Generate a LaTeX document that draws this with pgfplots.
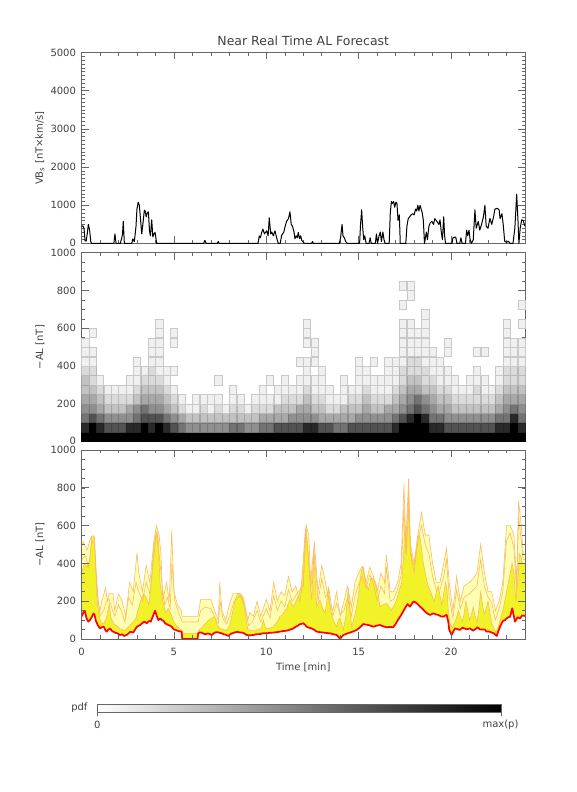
\documentclass[border=0pt]{standalone}
\usepackage{pgfplots}
\pgfplotsset{compat=1.18}
\usepackage{pgfplotstable}
\usepackage{fontspec}
\setmainfont{DejaVu Sans}
\definecolor{axgray}{gray}{0.4}
\definecolor{txt}{gray}{0.25}
\definecolor{paleY}{RGB}{255,255,180}
\definecolor{brightY}{RGB}{242,242,40}
\definecolor{orl}{RGB}{250,188,100}
\pgfdeclareplotmark{cell}{%
  \pgfpathrectangle{\pgfpoint{-3.6pt}{-4.6pt}}{\pgfpoint{7.2pt}{9.2pt}}%
  \pgfusepathqfillstroke}

\pgfplotstableread{
t v
0 450
0.08 460
0.14 380
0.19 80
0.25 60
0.31 250
0.37 500
0.44 350
0.5 50
0.55 0
1.75 0
1.81 250
1.87 0
2.1 0
2.18 150
2.22 250
2.26 580
2.32 0
2.72 0
2.78 120
2.86 50
2.95 450
3.0 900
3.07 1080
3.13 1000
3.2 600
3.26 250
3.32 500
3.4 870
3.45 850
3.5 700
3.56 800
3.62 830
3.68 330
3.73 200
3.8 620
3.86 170
3.92 250
3.98 290
4.07 0
6.6 0
6.68 80
6.75 0
7.35 0
7.4 50
7.45 0
9.55 0
9.62 200
9.68 150
9.75 290
9.82 375
9.9 250
10.02 330
10.1 200
10.16 670
10.24 250
10.3 300
10.38 200
10.47 330
10.56 150
10.65 0
10.75 0
10.83 210
10.95 300
11.02 450
11.1 580
11.2 650
11.28 830
11.35 500
11.42 450
11.5 300
11.55 125
11.62 200
11.68 150
11.73 290
11.8 125
11.86 200
11.92 80
11.99 40
12.05 0
12.45 0
12.5 50
12.55 0
13.95 0
14.02 150
14.1 500
14.15 200
14.22 150
14.3 50
14.38 0
15.05 0
15.1 500
15.16 880
15.22 400
15.27 100
15.33 200
15.4 0
15.56 0
15.62 150
15.68 0
15.9 0
15.96 250
16.02 0
16.1 200
16.17 300
16.23 50
16.31 300
16.37 100
16.43 0
16.65 0
16.71 800
16.77 1100
16.83 1050
16.89 1100
16.95 950
17.01 1080
17.07 1050
17.13 600
17.2 750
17.25 0
17.55 0
17.61 450
17.68 650
17.76 700
17.84 750
17.92 780
18.0 750
18.08 900
18.14 850
18.2 1000
18.26 850
18.32 1000
18.38 900
18.44 800
18.5 600
18.56 0
18.66 300
18.72 100
18.8 450
18.88 550
18.96 580
19.05 500
19.12 650
19.2 600
19.27 550
19.34 500
19.4 620
19.47 300
19.53 100
19.6 700
19.65 200
19.7 0
20.05 0
20.1 150
20.25 170
20.32 0
20.47 0
20.53 150
20.6 0
20.78 0
20.84 350
20.9 200
20.97 350
21.03 100
21.1 0
21.2 100
21.29 880
21.36 400
21.47 580
21.55 350
21.65 500
21.75 700
21.83 1000
21.9 450
22.0 400
22.1 660
22.2 500
22.3 700
22.37 900
22.5 920
22.6 880
22.65 650
22.75 780
22.82 500
22.9 60
23.0 30
23.1 60
23.2 0
23.35 0
23.45 400
23.55 1290
23.62 600
23.67 0
23.74 400
23.82 620
23.9 600
24 450
}\vbs

\pgfplotstableread{
t c25 c75 c125 c175 c225 c275 c325 c375 c425 c475 c525 c575 c625 c675 c725 c775 c825 c875
0.2 9 8 6 5 4 3 3 2 1 1 1 0 0 0 0 0 0 0
0.6 9 9 7 5 4 3 2 2 1 1 0 1 0 0 0 0 0 0
1.0 9 8 6 4 3 2 1 0 0 0 0 0 0 0 0 0 0 0
1.4 9 7 5 3 2 1 0 0 0 0 0 0 0 0 0 0 0 0
1.8 9 7 5 3 2 1 0 0 0 0 0 0 0 0 0 0 0 0
2.2 9 7 5 3 2 1 0 0 0 0 0 0 0 0 0 0 0 0
2.6 9 8 5 4 2 1 1 0 0 0 0 0 0 0 0 0 0 0
3.0 9 8 6 5 3 2 1 1 1 0 0 0 0 0 0 0 0 0
3.4 9 9 7 6 4 3 2 1 0 0 0 0 0 0 0 0 0 0
3.8 9 8 7 5 4 3 2 2 1 1 1 0 0 0 0 0 0 0
4.2 9 9 7 5 4 3 2 1 1 1 1 1 1 0 0 0 0 0
4.6 9 8 6 4 3 2 1 1 0 0 0 0 0 0 0 0 0 0
5.0 9 7 5 3 2 1 0 1 0 0 1 1 0 0 0 0 0 0
5.4 9 6 4 2 1 0 0 0 0 0 0 0 0 0 0 0 0 0
5.8 9 5 3 1 0 0 0 0 0 0 0 0 0 0 0 0 0 0
6.2 9 5 3 1 1 0 0 0 0 0 0 0 0 0 0 0 0 0
6.6 9 5 3 2 1 0 0 0 0 0 0 0 0 0 0 0 0 0
7.0 9 5 3 1 1 0 0 0 0 0 0 0 0 0 0 0 0 0
7.4 9 5 3 2 1 0 1 0 0 0 0 0 0 0 0 0 0 0
7.8 9 5 3 1 0 0 0 0 0 0 0 0 0 0 0 0 0 0
8.2 9 6 3 2 1 1 0 0 0 0 0 0 0 0 0 0 0 0
8.6 9 6 3 2 1 0 0 0 0 0 0 0 0 0 0 0 0 0
9.0 9 5 3 1 0 0 0 0 0 0 0 0 0 0 0 0 0 0
9.4 9 5 3 2 1 0 0 0 0 0 0 0 0 0 0 0 0 0
9.8 9 6 4 2 1 1 0 0 0 0 0 0 0 0 0 0 0 0
10.2 9 6 4 2 1 0 1 0 0 0 0 0 0 0 0 0 0 0
10.6 9 7 4 3 1 1 0 0 0 0 0 0 0 0 0 0 0 0
11.0 9 7 4 3 2 1 1 0 0 0 0 0 0 0 0 0 0 0
11.4 9 7 5 3 2 1 0 0 0 0 0 0 0 0 0 0 0 0
11.8 9 7 5 4 2 1 1 0 1 0 0 0 0 0 0 0 0 0
12.2 9 8 5 4 3 2 1 1 1 0 1 1 1 0 0 0 0 0
12.6 9 8 5 3 2 1 1 0 1 1 1 0 0 0 0 0 0 0
13.0 9 7 4 3 2 1 1 1 0 0 0 0 0 0 0 0 0 0
13.4 9 7 4 2 1 1 0 0 0 0 0 0 0 0 0 0 0 0
13.8 9 6 4 2 1 0 0 0 0 0 0 0 0 0 0 0 0 0
14.2 9 6 4 3 1 1 1 0 0 0 0 0 0 0 0 0 0 0
14.6 9 7 4 3 2 1 0 0 0 0 0 0 0 0 0 0 0 0
15.0 9 7 5 3 2 1 1 1 1 0 0 0 0 0 0 0 0 0
15.4 9 7 5 4 3 2 1 1 0 0 0 0 0 0 0 0 0 0
15.8 9 7 5 3 2 1 1 0 1 0 0 0 0 0 0 0 0 0
16.2 9 7 5 3 2 1 1 0 0 0 0 0 0 0 0 0 0 0
16.6 9 7 5 4 2 1 1 1 1 0 0 0 0 0 0 0 0 0
17.0 9 8 6 4 3 2 1 1 1 0 0 0 0 0 0 0 0 0
17.4 9 9 7 5 4 3 2 2 1 1 1 1 1 0 1 0 1 0
17.8 9 9 8 6 5 4 3 2 2 1 1 1 1 0 0 1 1 0
18.2 9 9 9 7 6 4 3 2 2 1 1 1 0 0 0 0 0 0
18.6 9 9 8 6 5 3 2 2 1 1 1 1 1 1 0 0 0 0
19.0 9 8 6 5 4 3 2 1 1 1 0 0 0 0 0 0 0 0
19.4 9 8 6 4 3 2 1 1 1 0 0 0 0 0 0 0 0 0
19.8 9 7 5 4 3 2 1 1 0 1 1 0 0 0 0 0 0 0
20.2 9 7 5 3 2 1 1 0 0 0 0 0 0 0 0 0 0 0
20.6 9 7 5 3 2 1 0 0 0 0 0 0 0 0 0 0 0 0
21.0 9 7 5 3 2 1 1 0 0 0 0 0 0 0 0 0 0 0
21.4 9 7 5 3 2 2 1 1 0 1 0 0 0 0 0 0 0 0
21.8 9 7 5 3 2 1 1 0 0 1 0 0 0 0 0 0 0 0
22.2 9 7 5 3 2 1 0 0 0 0 0 0 0 0 0 0 0 0
22.6 9 8 6 4 3 2 1 1 0 0 0 0 0 0 0 0 0 0
23.0 9 8 6 5 4 3 2 2 1 1 1 1 1 0 0 0 0 0
23.4 9 9 8 6 4 3 2 2 1 1 1 0 0 0 0 0 0 0
23.8 9 8 6 5 4 3 2 2 1 1 1 0 1 0 1 0 0 0
}\heat

\pgfplotstableread{
t v
0.0 118
0.1 140
0.18 150
0.27 110
0.37 92
0.46 100
0.55 115
0.65 135
0.7 130
0.78 95
0.9 70
1.0 56
1.1 62
1.2 66
1.3 45
1.36 39
1.45 50
1.55 56
1.65 42
1.72 39
1.85 32
1.95 30
2.08 21
2.2 25
2.3 16
2.44 21
2.55 30
2.65 39
2.8 34
2.9 50
3.0 65
3.1 70
3.17 74
3.3 85
3.4 92
3.53 83
3.65 95
3.75 92
3.89 127
3.98 150
4.08 120
4.16 100
4.26 109
4.35 100
4.45 95
4.52 83
4.62 78
4.7 74
4.8 70
4.88 65
5.0 50
5.1 48
5.24 42
5.35 40
5.42 39
5.45 0
6.28 0
6.32 30
6.4 35
6.5 34
6.6 28
6.7 25
6.86 30
6.95 25
7.05 21
7.15 30
7.22 34
7.3 36
7.4 35
7.5 32
7.58 30
7.7 25
7.8 23
7.94 16
8.05 25
8.15 30
8.3 35
8.45 38
8.58 34
8.67 35
8.8 30
8.94 21
9.1 20
9.3 21
9.45 25
9.66 26
9.8 30
10.02 30
10.2 33
10.38 34
10.55 36
10.74 39
10.9 42
11.1 44
11.3 50
11.46 56
11.6 65
11.73 72
11.82 78
12.0 83
12.1 75
12.18 65
12.3 60
12.46 56
12.6 48
12.73 39
12.9 36
13.09 34
13.25 32
13.45 30
13.6 26
13.81 21
13.92 10
13.99 0
14.05 8
14.17 21
14.35 28
14.53 34
14.7 40
14.89 48
15.05 60
15.25 79
15.4 76
15.52 74
15.65 70
15.79 65
15.95 70
16.15 74
16.3 68
16.51 62
16.7 64
16.87 62
17.0 80
17.12 100
17.24 118
17.35 136
17.5 162
17.64 185
17.78 171
17.9 190
17.96 198
18.05 195
18.14 189
18.24 180
18.32 171
18.45 160
18.59 145
18.72 135
18.86 127
19.04 136
19.18 130
19.31 127
19.45 120
19.58 118
19.7 125
19.76 127
19.85 90
19.9 48
20.03 21
20.12 40
20.21 56
20.35 52
20.48 48
20.62 60
20.75 55
20.84 51
21.02 56
21.2 44
21.35 55
21.42 62
21.56 51
21.7 50
21.82 51
21.92 39
22.05 40
22.2 34
22.32 30
22.41 21
22.47 16
22.55 40
22.65 65
22.8 95
22.92 100
23.0 109
23.1 115
23.19 118
23.31 162
23.4 120
23.46 92
23.6 115
23.73 109
23.85 125
24.0 122
}\redline

\pgfplotstableread{
t v
0.0 350
0.15 400
0.3 380
0.45 420
0.55 540
0.7 540
0.78 350
0.85 200
0.95 120
1.05 90
1.2 80
1.35 110
1.5 185
1.6 110
1.75 80
1.9 70
2.05 55
2.2 50
2.35 45
2.5 60
2.65 75
2.8 90
2.95 110
3.05 150
3.2 200
3.35 240
3.5 220
3.65 180
3.8 330
3.9 480
4.0 540
4.08 570
4.15 520
4.25 300
4.4 200
4.55 140
4.7 160
4.85 130
5.0 90
5.15 70
5.3 55
5.42 45
5.45 30
6.28 30
6.35 45
6.5 60
6.7 80
6.9 100
7.05 110
7.2 120
7.35 70
7.5 55
7.7 50
7.85 45
8.0 70
8.15 130
8.3 200
8.45 240
8.6 240
8.75 220
8.85 140
9.0 50
9.2 45
9.4 48
9.6 50
9.75 60
9.84 100
9.95 60
10.1 55
10.25 60
10.38 65
10.5 80
10.65 100
10.74 120
10.9 130
11.0 150
11.1 160
11.2 190
11.28 206
11.4 180
11.46 171
11.6 200
11.73 224
11.85 260
11.91 295
12.0 420
12.1 560
12.16 590
12.27 440
12.38 280
12.46 206
12.52 350
12.58 480
12.65 300
12.73 171
12.82 190
12.9 206
13.05 160
13.18 136
13.28 200
13.36 277
13.45 180
13.55 120
13.63 100
13.72 80
13.81 65
13.9 100
13.99 110
14.08 80
14.17 48
14.3 120
14.44 270
14.53 150
14.62 65
14.75 110
14.89 171
15.0 250
15.07 312
15.15 360
15.25 380
15.38 300
15.52 259
15.65 320
15.79 320
15.9 300
15.97 280
16.05 240
16.15 171
16.3 180
16.51 189
16.65 170
16.78 153
16.92 180
17.05 206
17.2 260
17.32 295
17.42 420
17.5 600
17.58 450
17.7 700
17.8 480
17.9 420
18.0 390
18.1 450
18.2 520
18.3 550
18.4 480
18.5 400
18.6 350
18.7 300
18.8 270
18.9 250
19.0 220
19.1 200
19.2 250
19.3 280
19.4 230
19.5 180
19.6 240
19.7 300
19.78 260
19.85 150
19.95 80
20.05 60
20.15 80
20.25 100
20.4 150
20.5 120
20.6 90
20.7 130
20.8 200
20.9 150
21.0 100
21.1 130
21.2 170
21.3 120
21.4 90
21.5 150
21.6 250
21.7 180
21.8 130
21.9 160
22.0 200
22.1 140
22.2 80
22.3 60
22.4 40
22.5 50
22.6 80
22.7 120
22.8 150
22.9 200
23.0 250
23.1 300
23.2 350
23.3 400
23.4 350
23.5 200
23.6 300
23.7 450
23.8 430
23.85 400
24.0 400
}\qtwo

\pgfplotstableread{
t v
0.0 420
0.2 440
0.4 380
0.55 520
0.7 500
0.85 250
1.0 120
1.2 150
1.35 200
1.5 210
1.65 160
1.8 120
2.0 180
2.15 150
2.35 90
2.55 220
2.75 180
2.95 300
3.1 250
3.3 200
3.5 300
3.7 240
3.9 420
4.05 560
4.2 450
4.35 300
4.5 180
4.65 220
4.8 160
4.9 400
5.05 200
5.25 140
5.45 90
6.3 90
6.45 150
6.7 170
7.0 160
7.2 120
7.4 80
7.5 200
7.65 110
7.85 80
8.05 130
8.25 200
8.6 230
8.85 160
9.05 70
9.25 90
9.5 150
9.7 90
10.0 160
10.2 110
10.4 230
10.6 150
10.8 200
11.0 170
11.2 260
11.4 200
11.6 230
11.8 260
12.0 280
12.15 560
12.3 420
12.4 250
12.6 450
12.8 200
13.0 320
13.2 220
13.4 260
13.6 120
13.8 190
14.0 130
14.2 150
14.4 220
14.6 120
14.8 230
15.0 290
15.2 330
15.4 270
15.6 340
15.8 290
16.0 200
16.2 280
16.4 240
16.5 380
16.7 200
16.9 210
17.1 260
17.3 340
17.45 700
17.55 450
17.7 780
17.8 450
18.0 350
18.2 530
18.4 600
18.6 500
18.8 450
19.0 330
19.2 260
19.4 260
19.6 330
19.75 420
19.9 220
20.1 110
20.3 260
20.5 160
20.7 220
21.0 240
21.2 260
21.4 280
21.6 420
21.8 280
22.0 220
22.2 190
22.4 100
22.6 160
22.8 250
23.0 520
23.2 560
23.4 480
23.55 250
23.65 650
23.8 520
23.9 420
24.0 420
}\qthree

\pgfplotstableread{
t v
0.0 500
0.1 515
0.2 490
0.3 470
0.45 520
0.55 545
0.68 545
0.8 350
0.9 200
1.0 150
1.1 200
1.3 270
1.4 200
1.5 240
1.7 240
1.8 150
2.0 240
2.2 200
2.4 120
2.6 300
2.8 250
3.0 455
3.1 350
3.3 250
3.5 390
3.7 300
3.9 500
4.05 600
4.2 550
4.3 450
4.4 200
4.6 300
4.75 200
4.88 575
5.0 250
5.2 180
5.4 150
5.45 120
6.3 120
6.45 210
7.0 210
7.2 150
7.4 100
7.48 300
7.6 150
7.8 100
8.0 180
8.2 240
8.5 240
8.8 200
9.0 100
9.1 140
9.3 120
9.5 200
9.7 120
10.0 210
10.2 150
10.4 300
10.6 200
10.8 250
11.0 230
11.2 330
11.4 250
11.6 280
11.8 200
12.0 300
12.15 605
12.3 550
12.4 300
12.6 515
12.8 250
13.0 390
13.2 300
13.4 200
13.6 150
13.8 250
14.0 120
14.2 200
14.4 280
14.6 170
14.8 300
15.0 350
15.2 385
15.4 300
15.6 380
15.8 330
16.0 250
16.2 350
16.4 300
16.5 445
16.7 250
16.9 250
17.1 300
17.3 400
17.45 820
17.55 500
17.7 850
17.8 500
18.0 400
18.2 550
18.4 670
18.6 550
18.8 550
19.0 400
19.2 300
19.4 300
19.6 400
19.75 480
19.9 300
20.1 150
20.3 330
20.5 200
20.7 280
21.0 300
21.2 320
21.4 350
21.6 500
21.8 350
22.0 250
22.2 250
22.4 150
22.6 200
22.8 300
23.0 600
23.2 600
23.4 550
23.55 300
23.65 730
23.8 600
23.9 450
24.0 450
}\qfour

\pgfplotsset{
  panel/.style={
    scale only axis, width=443.5pt, anchor=south west,
    xmin=0, xmax=24, xtick={0,5,...,20}, minor xtick={0,1,...,24},
    tick align=inside, major tick length=7pt, minor tick length=3.5pt,
    axis line style={axgray, line width=0.6pt},
    every tick/.append style={axgray, line width=0.6pt},
    every minor tick/.append style={axgray, line width=0.5pt},
    tick label style={font=\fontsize{10}{12}\selectfont, text=txt},
    yticklabel style={xshift=-2pt},
    xticklabel style={yshift=-6pt},
    label style={font=\fontsize{10}{12}\selectfont, text=txt},
    ylabel style={at={(axis description cs:-0.0936,0.5)}, anchor=center},
    /pgf/number format/assume math mode=true,
    /pgf/number format/1000 sep={},
    scaled ticks=false,
  }
}

\begin{document}
\begin{tikzpicture}
\path (0pt,0pt) rectangle (576pt,792pt);

% top panel
\begin{axis}[panel, at={(81.5pt,548.5pt)}, height=191pt,
  ymin=0, ymax=5000, ytick={0,1000,...,5000}, minor ytick={0,100,...,5000},
  yticklabels={\raisebox{1.8pt}{0},1000,2000,3000,4000,5000},
  xticklabels={}, ylabel={VB\textsubscript{s} [nT×km/s]}]
\addplot[black, line width=1pt, line join=round] table[x=t,y=v] {\vbs};
\end{axis}

% middle panel
\begin{axis}[panel, at={(81.5pt,350.3pt)}, height=189pt,
  ymin=0, ymax=1000, ytick={0,200,...,1000}, minor ytick={0,50,...,1000},
  yticklabels={\raisebox{1.8pt}{0},200,400,600,800,\raisebox{-1.8pt}{1000}},
  xticklabels={}, ylabel={−AL [nT]}, axis on top,
  colormap={pdfgray}{gray=(1) gray=(0.94) gray=(0.86) gray=(0.76) gray=(0.66) gray=(0.56) gray=(0.45) gray=(0.32) gray=(0.16) gray=(0)},
  point meta min=0, point meta max=9]
\pgfplotsinvokeforeach{25,75,...,875}{
  \addplot[scatter, only marks, mark=cell, line width=0.35pt,
    scatter/use mapped color={draw=mapped color!84!black, fill=mapped color},
    point meta=\thisrow{c#1},
    restrict expr to domain={\thisrow{c#1}}{0.5:10}]
    table[x=t, y expr=#1] {\heat};
}
\end{axis}

% bottom panel
\begin{axis}[panel, at={(81.5pt,153pt)}, height=189pt,
  ymin=0, ymax=1000, ytick={0,200,...,1000}, minor ytick={0,50,...,1000},
  yticklabels={0,200,400,600,800,\raisebox{-1.8pt}{1000}},
  ylabel={−AL [nT]}, xlabel={Time [min]}, axis on top,
  xlabel style={at={(axis description cs:0.5,-0.148)}, anchor=center}]
\addplot[draw=none, fill=paleY] table[x=t,y=v] {\qfour} \closedcycle;
\addplot[draw=none, fill=brightY] table[x=t,y=v] {\qtwo} \closedcycle;
\addplot[draw=none, fill=white] table[x=t,y=v] {\redline} \closedcycle;
\addplot[orl, line width=0.6pt] table[x=t,y=v] {\qthree};
\addplot[orl, line width=0.6pt] table[x=t,y=v] {\qfour};
\addplot[orl, line width=0.6pt] table[x=t,y=v] {\qtwo};
\addplot[red, line width=1.7pt, line join=round] table[x=t,y=v] {\redline};
\end{axis}

% title
\node[font=\fontsize{12.5}{14}\selectfont, text=txt] at (303.25pt,751pt) {Near Real Time AL Forecast};

% colour bar
\shade[left color=white, right color=black] (97.3pt,79.3pt) rectangle (501pt,87.7pt);
\draw[axgray, line width=0.5pt] (97.3pt,79.3pt) rectangle (501pt,87.7pt);
\draw[axgray, line width=0.5pt] (97.3pt,79.3pt) -- (97.3pt,76pt) (501pt,79.3pt) -- (501pt,76pt);
\node[font=\fontsize{10}{12}\selectfont, text=txt, anchor=east] at (91pt,84pt) {pdf};
\node[font=\fontsize{10}{12}\selectfont, text=txt] at (97.3pt,67pt) {0};
\node[font=\fontsize{10}{12}\selectfont, text=txt] at (500.5pt,67pt) {max(p)};
\end{tikzpicture}
\end{document}
